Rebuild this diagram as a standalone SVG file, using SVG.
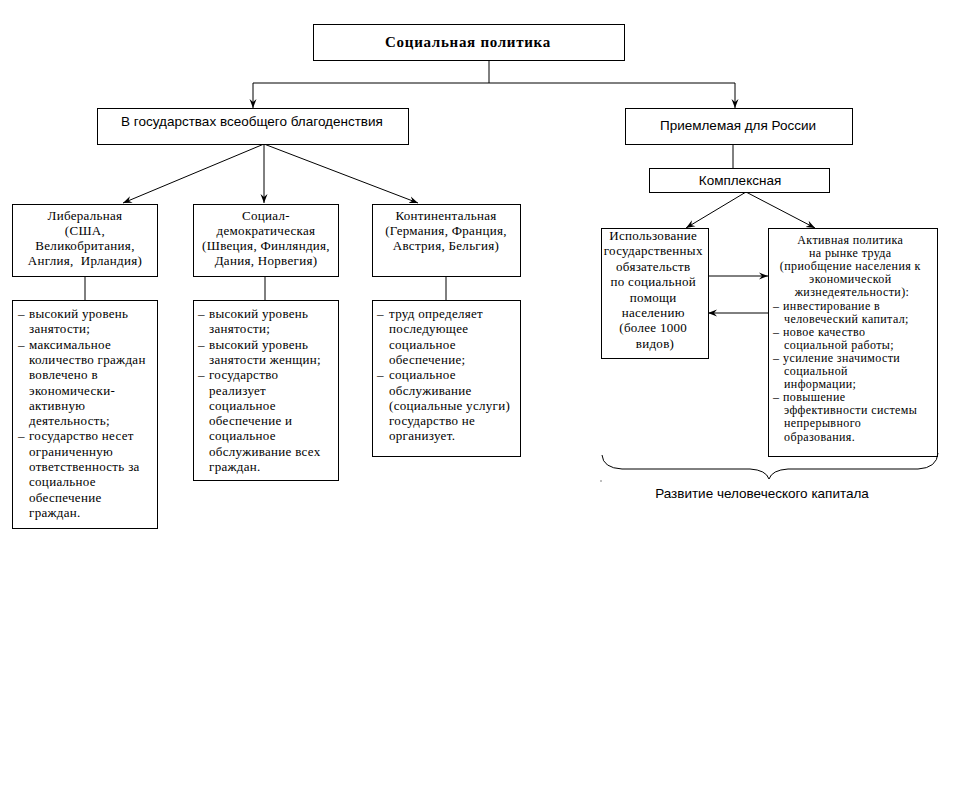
<svg xmlns="http://www.w3.org/2000/svg" width="961" height="793" viewBox="0 0 961 793">
<defs>
<style>
.box{fill:#fff;stroke:#000;stroke-width:1}
.ln{fill:none;stroke:#000;stroke-width:1}
.s{font-family:"Liberation Serif","Times New Roman",serif;font-size:13px;fill:#000;letter-spacing:0.3px}
.sm{font-family:"Liberation Serif","Times New Roman",serif;font-size:12px;fill:#000;letter-spacing:0.4px}
.h{font-family:"Liberation Sans",Arial,sans-serif;font-size:13.5px;fill:#000}
.c{text-anchor:middle}
.t{font-family:"Liberation Serif","Times New Roman",serif;font-size:15px;font-weight:bold;fill:#000;text-anchor:middle;letter-spacing:0.7px}
</style>
<marker id="ar" markerWidth="10" markerHeight="8" refX="9" refY="4" orient="auto" markerUnits="userSpaceOnUse">
<path d="M0,0.5 L9,4 L0,7.5 L3,4 z" fill="#000"/>
</marker>
</defs>
<rect width="961" height="793" fill="#fff"/>

<g id="connectors">
<path class="ln" d="M489,60 V83 M253,83 H735"/>
<path class="ln" d="M253,83 V108" marker-end="url(#ar)"/>
<path class="ln" d="M735,83 V108" marker-end="url(#ar)"/>
<path class="ln" d="M264,144 L123,203" marker-end="url(#ar)"/>
<path class="ln" d="M264,144 V203" marker-end="url(#ar)"/>
<path class="ln" d="M264,144 L418,203" marker-end="url(#ar)"/>
<path class="ln" d="M85,276 V300 M265,276 V300 M446,276 V300"/>
<path class="ln" d="M733,144 V168"/>
<path class="ln" d="M746,192 L686,228" marker-end="url(#ar)"/>
<path class="ln" d="M746,192 L815,228" marker-end="url(#ar)"/>
<path class="ln" d="M708,276 H768" marker-end="url(#ar)"/>
<path class="ln" d="M768,313 H708" marker-end="url(#ar)"/>
</g>

<g id="n-title">
<rect class="box" x="313.5" y="24.5" width="311" height="36"/>
<text class="t" x="468" y="47">Социальная политика</text>
</g>

<g id="n-welfare">
<rect class="box" x="97.5" y="108.5" width="311" height="36"/>
<text class="h c" x="252" y="126">В государствах всеобщего благоденствия</text>
</g>

<g id="n-russia">
<rect class="box" x="625.5" y="108.5" width="227" height="36"/>
<text class="h c" x="738" y="130">Приемлемая для России</text>
</g>

<g id="n-complex">
<rect class="box" x="649.5" y="168.5" width="180" height="24"/>
<text class="h c" x="740" y="185">Комплексная</text>
</g>

<g id="n-liberal">
<rect class="box" x="12.5" y="204.5" width="145" height="72"/>
<text class="s c" x="85" y="220">Либеральная</text>
<text class="s c" x="85" y="235">(США,</text>
<text class="s c" x="85" y="250">Великобритания,</text>
<text class="s c" x="85" y="265" style="white-space:pre">Англия,  Ирландия)</text>
</g>

<g id="n-socdem">
<rect class="box" x="193.5" y="204.5" width="145" height="72"/>
<text class="s c" x="266" y="220">Социал-</text>
<text class="s c" x="266" y="235">демократическая</text>
<text class="s c" x="266" y="250">(Швеция, Финляндия,</text>
<text class="s c" x="266" y="265">Дания, Норвегия)</text>
</g>

<g id="n-cont">
<rect class="box" x="372.5" y="204.5" width="148" height="72"/>
<text class="s c" x="446" y="220">Континентальная</text>
<text class="s c" x="446" y="235">(Германия, Франция,</text>
<text class="s c" x="446" y="250">Австрия, Бельгия)</text>
</g>

<g id="n-liberal-list">
<rect class="box" x="12.5" y="300.5" width="145" height="228"/>
<text class="s">
<tspan x="18" y="318">–</tspan><tspan x="29" y="318">высокий уровень</tspan>
<tspan x="29" y="333.3">занятости;</tspan>
<tspan x="18" y="348.6">–</tspan><tspan x="29" y="348.6">максимальное</tspan>
<tspan x="29" y="363.9">количество граждан</tspan>
<tspan x="29" y="379.2">вовлечено в</tspan>
<tspan x="29" y="394.5">экономически-</tspan>
<tspan x="29" y="409.8">активную</tspan>
<tspan x="29" y="425.1">деятельность;</tspan>
<tspan x="18" y="440.4">–</tspan><tspan x="29" y="440.4">государство несет</tspan>
<tspan x="29" y="455.7">ограниченную</tspan>
<tspan x="29" y="471">ответственность за</tspan>
<tspan x="29" y="486.3">социальное</tspan>
<tspan x="29" y="501.6">обеспечение</tspan>
<tspan x="29" y="516.9">граждан.</tspan>
</text>
</g>

<g id="n-socdem-list">
<rect class="box" x="193.5" y="300.5" width="145" height="180"/>
<text class="s">
<tspan x="198" y="318">–</tspan><tspan x="209" y="318">высокий уровень</tspan>
<tspan x="209" y="333.3">занятости;</tspan>
<tspan x="198" y="348.6">–</tspan><tspan x="209" y="348.6">высокий уровень</tspan>
<tspan x="209" y="363.9">занятости женщин;</tspan>
<tspan x="198" y="379.2">–</tspan><tspan x="209" y="379.2">государство</tspan>
<tspan x="209" y="394.5">реализует</tspan>
<tspan x="209" y="409.8">социальное</tspan>
<tspan x="209" y="425.1">обеспечение и</tspan>
<tspan x="209" y="440.4">социальное</tspan>
<tspan x="209" y="455.7">обслуживание всех</tspan>
<tspan x="209" y="471">граждан.</tspan>
</text>
</g>

<g id="n-cont-list">
<rect class="box" x="372.5" y="300.5" width="148" height="156"/>
<text class="s">
<tspan x="377" y="318">–</tspan><tspan x="389" y="318">труд определяет</tspan>
<tspan x="389" y="333.3">последующее</tspan>
<tspan x="389" y="348.6">социальное</tspan>
<tspan x="389" y="363.9">обеспечение;</tspan>
<tspan x="377" y="379.2">–</tspan><tspan x="389" y="379.2">социальное</tspan>
<tspan x="389" y="394.5">обслуживание</tspan>
<tspan x="389" y="409.8">(социальные услуги)</tspan>
<tspan x="389" y="425.1">государство не</tspan>
<tspan x="389" y="440.4">организует.</tspan>
</text>
</g>

<g id="n-obligations">
<rect class="box" x="601.5" y="228.5" width="107" height="130"/>
<text class="s c">
<tspan x="655" y="240">Использование</tspan>
<tspan x="655" y="255.4">государственных</tspan>
<tspan x="655" y="270.8">обязательств</tspan>
<tspan x="655" y="286.2">по социальной</tspan>
<tspan x="655" y="301.6">помощи</tspan>
<tspan x="655" y="317">населению</tspan>
<tspan x="655" y="332.4">(более 1000</tspan>
<tspan x="655" y="347.8">видов)</tspan>
</text>
</g>

<g id="n-active">
<rect class="box" x="768.5" y="228.5" width="169" height="228"/>
<text class="sm c">
<tspan x="852" y="244">Активная политика</tspan>
<tspan x="852" y="257.1">на рынке труда</tspan>
<tspan x="852" y="270.2">(приобщение населения к</tspan>
<tspan x="852" y="283.3">экономической</tspan>
<tspan x="852" y="296.4">жизнедеятельности):</tspan>
</text>
<text class="sm">
<tspan x="773" y="309.5">–</tspan><tspan x="783" y="309.5">инвестирование в</tspan>
<tspan x="784" y="322.6">человеческий капитал;</tspan>
<tspan x="773" y="335.7">–</tspan><tspan x="783" y="335.7">новое качество</tspan>
<tspan x="784" y="348.8">социальной работы;</tspan>
<tspan x="773" y="361.9">–</tspan><tspan x="783" y="361.9">усиление значимости</tspan>
<tspan x="784" y="375">социальной</tspan>
<tspan x="784" y="388.1">информации;</tspan>
<tspan x="773" y="401.2">–</tspan><tspan x="783" y="401.2">повышение</tspan>
<tspan x="784" y="414.3">эффективности системы</tspan>
<tspan x="784" y="427.4">непрерывного</tspan>
<tspan x="784" y="440.5">образования.</tspan>
</text>
</g>

<g id="brace">
<path class="ln" d="M602,455 Q603,468 622,469 L750,469 Q766,470 769,479 Q772,470 788,469 L918,469 Q937,468 938,453"/>
<rect x="600.5" y="480.5" width="1" height="1" fill="#000"/>
<text class="h c" x="762" y="498">Развитие человеческого капитала</text>
</g>
</svg>
